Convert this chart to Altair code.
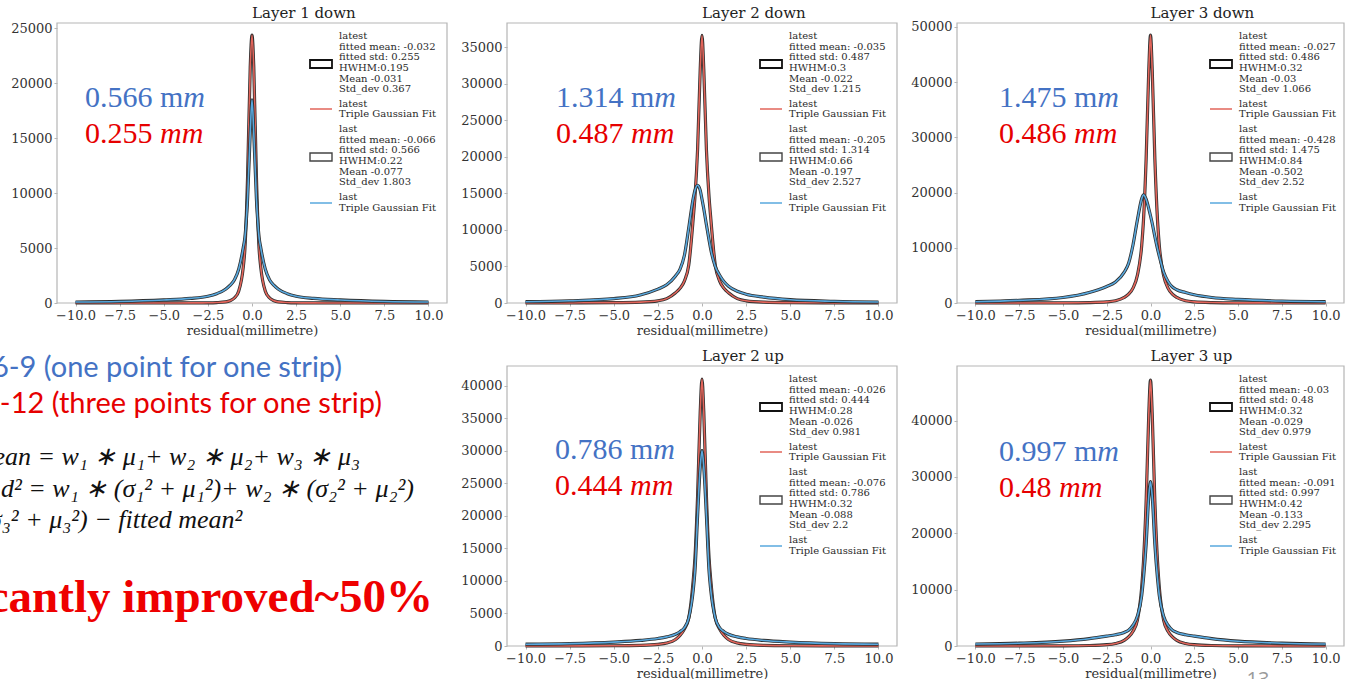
import altair as alt
import pandas as pd

# ---------------- data ----------------
X = [-10, -7.5, -5, -3.5, -2.5, -2, -1.5, -1.25, -1, -0.75, -0.5, -0.4, -0.25, -0.1, 0,
     0.1, 0.25, 0.4, 0.5, 0.75, 1, 1.25, 1.5, 2, 2.5, 3.5, 5, 7.5, 10]

L1_DOWN_LATEST = [0, 0, 5, 10, 20, 40, 100, 200, 450, 1100, 3200, 5000, 11500, 21500, 24400,
                  21500, 11500, 5000, 3200, 1100, 450, 200, 100, 40, 20, 10, 5, 0, 0]
L1_DOWN_LAST = [90, 140, 280, 420, 620, 850, 1250, 1600, 2100, 3100, 5000, 6000, 9500, 15500, 18500,
                15500, 9500, 6000, 5000, 3100, 2100, 1600, 1250, 850, 620, 420, 280, 140, 90]
L2_DOWN_LATEST = [10, 20, 50, 120, 300, 600, 1400, 2000, 3000, 5200, 11500, 14500, 21000, 32000, 36600,
                  32000, 21000, 14500, 11500, 5200, 3000, 2000, 1400, 600, 300, 120, 50, 20, 10]
L2_DOWN_LAST = [180, 300, 600, 1100, 1900, 2500, 3700, 4600, 6500, 10300, 14300, 15400, 16100, 15400, 14200,
                12900, 10700, 8600, 7300, 5000, 3800, 2900, 2300, 1600, 1200, 800, 450, 230, 130]
L3_DOWN_LATEST = [5, 10, 30, 80, 200, 400, 1000, 1600, 2700, 5000, 10500, 15000, 26000, 42000, 48500,
                  42000, 26000, 15000, 10500, 5000, 2700, 1600, 1000, 400, 200, 80, 30, 10, 5]
L3_DOWN_LAST = [240, 480, 1000, 1900, 3000, 3800, 5600, 7200, 10500, 15000, 18900, 19600, 18800, 17100, 15800,
                14400, 12000, 9800, 8500, 5600, 3900, 2900, 2400, 1900, 1500, 1000, 650, 350, 240]
L2_UP_LATEST = [8, 15, 40, 100, 250, 450, 1000, 1600, 2600, 4300, 10000, 13500, 23000, 36000, 41000,
                36000, 23000, 13500, 10000, 4300, 2600, 1600, 1000, 450, 250, 100, 40, 15, 8]
L2_UP_LAST = [280, 370, 600, 850, 1150, 1400, 1800, 2200, 2800, 4300, 8500, 11500, 20000, 27500, 30000,
              27500, 20000, 11500, 8500, 4300, 2800, 2200, 1800, 1400, 1150, 850, 600, 370, 280]
L3_UP_LATEST = [6, 12, 35, 90, 230, 450, 1000, 1600, 2600, 4600, 10500, 15000, 25500, 41000, 47200,
                41000, 25500, 15000, 10500, 4600, 2600, 1600, 1000, 450, 230, 90, 35, 12, 6]
L3_UP_LAST = [350, 500, 850, 1300, 1750, 2000, 2400, 2800, 3700, 5300, 9000, 12000, 18000, 26500, 29200,
              26500, 18000, 12000, 9000, 5300, 3700, 2800, 2400, 2000, 1750, 1300, 850, 500, 350]

TITLES = ["Layer 1 down", "Layer 2 down", "Layer 3 down", "Layer 2 up", "Layer 3 up"]
LATEST_SERIES = [L1_DOWN_LATEST, L2_DOWN_LATEST, L3_DOWN_LATEST, L2_UP_LATEST, L3_UP_LATEST]
LAST_SERIES = [L1_DOWN_LAST, L2_DOWN_LAST, L3_DOWN_LAST, L2_UP_LAST, L3_UP_LAST]
Y_MAX = [25500, 38300, 50700, 43000, 49700]
Y_TICKS = [
    [0, 5000, 10000, 15000, 20000, 25000],
    [0, 5000, 10000, 15000, 20000, 25000, 30000, 35000],
    [0, 10000, 20000, 30000, 40000, 50000],
    [0, 5000, 10000, 15000, 20000, 25000, 30000, 35000, 40000],
    [0, 10000, 20000, 30000, 40000],
]
X_TICKS = [-10, -7.5, -5, -2.5, 0, 2.5, 5, 7.5, 10]
X_DOMAIN = [-11.05, 11.05]

LAST_STD = ["0.566", "1.314", "1.475", "0.786", "0.997"]
LATEST_STD = ["0.255", "0.487", "0.486", "0.444", "0.48"]

LATEST_STATS = [
    ["-0.032", "0.255", "0.195", "-0.031", "0.367"],
    ["-0.035", "0.487", "0.3", "-0.022", "1.215"],
    ["-0.027", "0.486", "0.32", "-0.03", "1.066"],
    ["-0.026", "0.444", "0.28", "-0.026", "0.981"],
    ["-0.03", "0.48", "0.32", "-0.029", "0.979"],
]
LAST_STATS = [
    ["-0.066", "0.566", "0.22", "-0.077", "1.803"],
    ["-0.205", "1.314", "0.66", "-0.197", "2.527"],
    ["-0.428", "1.475", "0.84", "-0.502", "2.52"],
    ["-0.076", "0.786", "0.32", "-0.088", "2.2"],
    ["-0.091", "0.997", "0.42", "-0.133", "2.295"],
]

SIDE_BLUE = "6-9 (one point for one strip)"
SIDE_RED = "10-12 (three points for one strip)"
FORMULA_1 = "fitted mean  = w\u2081 \u2217 \u03bc\u2081+ w\u2082 \u2217 \u03bc\u2082+ w\u2083 \u2217 \u03bc\u2083"
FORMULA_2 = "d\u00b2 = w\u2081 \u2217 (\u03c3\u2081\u00b2 + \u03bc\u2081\u00b2)+ w\u2082 \u2217 (\u03c3\u2082\u00b2 + \u03bc\u2082\u00b2)"
FORMULA_3 = "\u03c3\u2083\u00b2 + \u03bc\u2083\u00b2) \u2212 fitted mean\u00b2"
CONCLUSION = "significantly improved~50%"
PAGE_NO = "13"

# ---------------- layout / style ----------------
W, H = 1345, 679
BOX = [(57, 23, 447, 303), (507, 23, 897, 303), (957, 23, 1344, 303),
       (507, 366, 897, 646), (957, 366, 1344, 646)]
TITLE_Y = [13, 13, 13, 356, 356]
BIG_POS = [(85, 107, 143), (556, 107, 143), (999, 107, 143), (555, 459, 495), (999, 461, 497)]

SERIF = "DejaVu Serif"
BIGFONT = "Liberation Serif"
BLUE_TXT = "#4472C4"
RED_TXT = "#E60000"
FIT_RED = "#e2645a"
FIT_BLUE = "#58a8de"
HIST = "#2f2f2f"
AXIS_GREY = "#b5b5b5"
LABEL = "#333333"

DUMMY = pd.DataFrame({"k": [0]})


def text(x, y, s, size, color, font=SERIF, align="left", baseline="middle",
         italic=False, bold=False):
    return alt.Chart(DUMMY).mark_text(
        font=font, fontSize=size, color=color, align=align, baseline=baseline,
        fontStyle="italic" if italic else "normal",
        fontWeight="bold" if bold else "normal",
    ).encode(x=alt.value(x), y=alt.value(y), text=alt.value(s))


def rect(x1, y1, x2, y2, color, width):
    return alt.Chart(DUMMY).mark_rect(fillOpacity=0, stroke=color, strokeWidth=width).encode(
        x=alt.value(x1), x2=alt.value(x2), y=alt.value(y1), y2=alt.value(y2))


def rule(x1, x2, y, color, width):
    return alt.Chart(DUMMY).mark_rule(color=color, strokeWidth=width).encode(
        x=alt.value(x1), x2=alt.value(x2), y=alt.value(y))


def num_width(s, fs):
    return sum(0.25 * fs if c == "." else 0.5 * fs for c in s)


def panel(i):
    L, T, R, B = BOX[i]
    n = len(X)
    df = pd.DataFrame({
        "x": X + X,
        "y": LATEST_SERIES[i] + LAST_SERIES[i],
        "s": ["latest"] * n + ["last"] * n,
    })
    xs = alt.Scale(domain=X_DOMAIN, range=[L, R], nice=False, zero=False)
    ys = alt.Scale(domain=[0, Y_MAX[i]], range=[B, T], nice=False, zero=False)
    xax = alt.Axis(orient="bottom", offset=-(H - B), values=X_TICKS, format=".1f",
                   title="residual(millimetre)", titleFont=SERIF, titleFontSize=13,
                   titleFontWeight="normal", titleColor=LABEL, titlePadding=2,
                   labelFont=SERIF, labelFontSize=13, labelColor=LABEL, labelPadding=3,
                   labelOverlap=False, labelFlush=False, domain=False, grid=False,
                   ticks=True, tickSize=3, tickColor=AXIS_GREY)
    yax = alt.Axis(orient="left", offset=-L, values=Y_TICKS[i], format="d", title=None,
                   labelFont=SERIF, labelFontSize=13, labelColor=LABEL, labelPadding=2,
                   labelOverlap=False, labelFlush=False, domain=False, grid=False,
                   ticks=True, tickSize=3, tickColor=AXIS_GREY)
    xe = alt.X("x:Q", scale=xs, axis=xax)
    ye = alt.Y("y:Q", scale=ys, axis=yax)

    frame_df = pd.DataFrame({"x0": [X_DOMAIN[0]], "x1": [X_DOMAIN[1]],
                             "y0": [0], "y1": [Y_MAX[i]]})
    frame = alt.Chart(frame_df).mark_rect(fillOpacity=0, stroke=AXIS_GREY, strokeWidth=1.2).encode(
        x=alt.X("x0:Q", scale=xs, axis=xax), x2="x1:Q",
        y=alt.Y("y0:Q", scale=ys, axis=yax), y2="y1:Q")

    base = alt.Chart(df)
    latest = base.transform_filter(alt.datum.s == "latest")
    last = base.transform_filter(alt.datum.s == "last")
    hist_latest = latest.mark_line(color=HIST, strokeWidth=3.2, interpolate="monotone").encode(xe, ye)
    fit_latest = latest.mark_line(color=FIT_RED, strokeWidth=1.6, interpolate="monotone").encode(xe, ye)
    hist_last = last.mark_line(color=HIST, strokeWidth=3.2, interpolate="monotone").encode(xe, ye)
    fit_last = last.mark_line(color=FIT_BLUE, strokeWidth=1.6, interpolate="monotone").encode(xe, ye)

    layers = [frame, hist_latest, fit_latest, hist_last, fit_last]

    # title
    layers.append(text((L + R) / 2, TITLE_Y[i], TITLES[i], 15, "#222222"))

    # big annotations
    bx, by1, by2 = BIG_POS[i]
    fs = 30
    layers.append(text(bx, by1, LAST_STD[i], fs, BLUE_TXT, font=BIGFONT, baseline="alphabetic"))
    ux = bx + num_width(LAST_STD[i], fs) + 0.25 * fs
    layers.append(text(ux, by1, "m", fs, BLUE_TXT, font=BIGFONT, baseline="alphabetic"))
    layers.append(text(ux + 0.778 * fs, by1, "m", fs, BLUE_TXT, font=BIGFONT,
                       baseline="alphabetic", italic=True))
    layers.append(text(bx, by2, LATEST_STD[i], fs, RED_TXT, font=BIGFONT, baseline="alphabetic"))
    ux2 = bx + num_width(LATEST_STD[i], fs) + 0.25 * fs
    layers.append(text(ux2, by2, "mm", fs, RED_TXT, font=BIGFONT, baseline="alphabetic", italic=True))

    # legend
    tx = L + 282
    lat = LATEST_STATS[i]
    las = LAST_STATS[i]
    block1 = ["latest", "fitted mean: " + lat[0], "fitted std: " + lat[1], "HWHM:" + lat[2],
              "Mean " + lat[3], "Std_dev " + lat[4]]
    block2 = ["last", "fitted mean: " + las[0], "fitted std: " + las[1], "HWHM:" + las[2],
              "Mean " + las[3], "Std_dev " + las[4]]
    for k, s in enumerate(block1):
        layers.append(text(tx, T + 13 + 10.67 * k, s, 10, "#2a2a2a"))
    for k, s in enumerate(["latest", "Triple Gaussian Fit"]):
        layers.append(text(tx, T + 81 + 10.4 * k, s, 10, "#2a2a2a"))
    for k, s in enumerate(block2):
        layers.append(text(tx, T + 106 + 10.67 * k, s, 10, "#2a2a2a"))
    for k, s in enumerate(["last", "Triple Gaussian Fit"]):
        layers.append(text(tx, T + 174.3 + 10.4 * k, s, 10, "#2a2a2a"))
    layers.append(rect(L + 253, T + 37, L + 275, T + 45, "#111111", 1.8))
    layers.append(rule(L + 253, L + 275, T + 86, FIT_RED, 1.5))
    layers.append(rect(L + 253, T + 130, L + 275, T + 138, "#444444", 1.4))
    layers.append(rule(L + 253, L + 275, T + 180, FIT_BLUE, 1.5))
    return alt.layer(*layers)


panels = [panel(i) for i in range(5)]

side = [
    text(342, 377, SIDE_BLUE, 29, BLUE_TXT, font="Lato", align="right", baseline="alphabetic"),
    text(382, 413, SIDE_RED, 29, RED_TXT, font="Lato", align="right", baseline="alphabetic"),
    text(360, 465, FORMULA_1, 26, "#111111", font=BIGFONT, align="right", baseline="alphabetic", italic=True),
    text(1, 497, FORMULA_2, 26, "#111111", font=BIGFONT, align="left", baseline="alphabetic", italic=True),
    text(-11, 528, FORMULA_3, 26, "#111111", font=BIGFONT, align="left", baseline="alphabetic", italic=True),
    text(433, 612, CONCLUSION, 47, "#EE0000", font=BIGFONT, align="right", baseline="alphabetic", bold=True),
    text(1258, 670, PAGE_NO, 20, "#9a9a9a", font="Open Sans", align="center", baseline="top"),
]

chart = alt.layer(*panels, *side).resolve_scale(
    x="independent", y="independent"
).resolve_axis(
    x="independent", y="independent"
).properties(
    width=W, height=H, padding=0,
    autosize=alt.AutoSizeParams(type="none"),
    background="white",
).configure_view(stroke="transparent")

chart.save("out.html", embed_options={"renderer": "svg", "actions": False})
